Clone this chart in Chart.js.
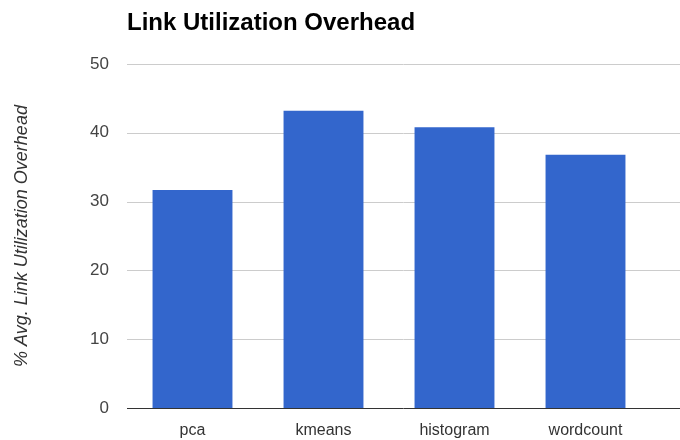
<!DOCTYPE html>
<html lang="en">
<head>
  <meta charset="UTF-8" />
  <title>Link Utilization Overhead</title>
  <script src="https://cdn.jsdelivr.net/npm/chart.js"></script>
  <style>
    body { margin: 0; background: white; }
    #wrap { width: 680px; height: 440px; }
  </style>
</head>
<body>
<div id="wrap"><canvas id="chart" width="680" height="440"></canvas></div>
<script>
  const categories = ['pca', 'kmeans', 'histogram', 'wordcount'];
  const overhead = [31.7, 43.2, 40.8, 36.8];
  const yTicks = [0, 10, 20, 30, 40, 50];

  const FONT = 'Liberation Sans, Arial, sans-serif';

  // horizontal grid lines run from the plot's left edge to the canvas edge
  const fullGrid = {
    id: 'fullGrid',
    beforeDatasetsDraw(chart) {
      const ctx = chart.ctx;
      const y = chart.scales.y;
      const area = chart.chartArea;
      ctx.save();
      yTicks.forEach(v => {
        const py = Math.round(y.getPixelForValue(v)) + 0.5;
        ctx.strokeStyle = v === 0 ? '#333333' : '#cccccc';
        ctx.lineWidth = 1;
        ctx.beginPath();
        ctx.moveTo(area.left, py);
        ctx.lineTo(chart.width, py);
        ctx.stroke();
      });
      ctx.restore();
    }
  };

  new Chart(document.getElementById('chart'), {
    type: 'bar',
    data: {
      labels: categories,
      datasets: [{
        data: overhead,
        backgroundColor: '#3366cc',
        categoryPercentage: 0.61,
        barPercentage: 1
      }]
    },
    options: {
      responsive: false,
      animation: false,
      layout: { padding: { left: 0, right: 29, top: 0, bottom: 0 } },
      plugins: {
        legend: { display: false },
        tooltip: { enabled: false },
        title: {
          display: true,
          text: 'Link Utilization Overhead',
          align: 'start',
          fullSize: false,
          color: '#000000',
          font: { family: FONT, size: 24, weight: 'bold' },
          padding: { top: 8.5, bottom: 26.7 }
        }
      },
      scales: {
        x: {
          grid: { display: false, drawTicks: false },
          border: { display: false },
          ticks: {
            color: '#333333',
            padding: 13,
            font: { family: FONT, size: 16 }
          },
          afterFit(scale) { scale.height = 32; }
        },
        y: {
          min: 0,
          max: 50,
          afterBuildTicks(scale) { scale.ticks = yTicks.map(v => ({ value: v })); },
          grid: { display: false, drawTicks: false },
          border: { display: false },
          ticks: {
            color: '#444444',
            padding: 18,
            font: { family: FONT, size: 17 }
          },
          title: {
            display: true,
            text: '% Avg. Link Utilization Overhead',
            color: '#333333',
            font: { family: FONT, size: 18, style: 'italic' },
            padding: { top: 11, bottom: 0 }
          },
          afterFit(scale) { scale.width = 127; }
        }
      }
    },
    plugins: [fullGrid]
  });
</script>
</body>
</html>
